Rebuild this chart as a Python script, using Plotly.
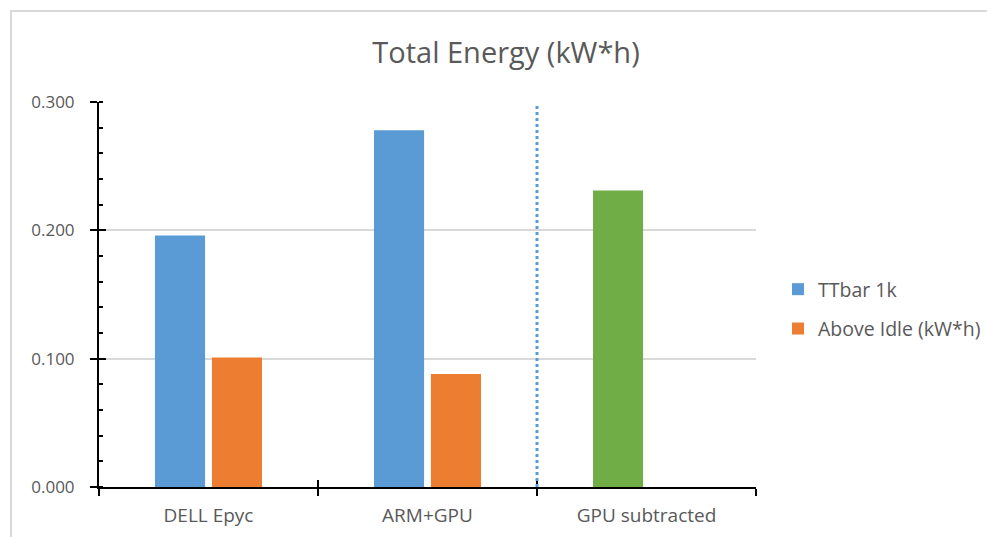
import plotly.graph_objects as go

# Chart data
categories = ["DELL Epyc", "ARM+GPU", "GPU subtracted"]
ttbar_1k = [0.196, 0.278, 0.231]
above_idle = [0.101, 0.088, None]
series_names = ["TTbar 1k", "Above Idle (kW*h)"]
title_text = "Total Energy (kW*h)"

BLUE = "#5B9BD5"
ORANGE = "#ED7D31"
GREEN = "#70AD47"
GRID = "#D9D9D9"
TEXT = "#595959"
FONT = "Open Sans"

W, H = 987, 537
L, R, T, B = 99, 231, 102, 50

fig = go.Figure()
fig.add_trace(go.Bar(
    x=categories, y=ttbar_1k, name=series_names[0],
    marker=dict(color=[BLUE, BLUE, GREEN], line=dict(width=0)),
    legendgroup="a",
))
fig.add_trace(go.Bar(
    x=categories, y=above_idle, name=series_names[1],
    marker=dict(color=ORANGE, line=dict(width=0)),
    legendgroup="b",
))

fig.update_layout(
    width=W, height=H,
    margin=dict(l=L, r=R, t=T, b=B, autoexpand=False),
    paper_bgcolor="white", plot_bgcolor="white",
    barmode="group", bargap=0.48, bargroupgap=0.12,
    font=dict(family=FONT, color=TEXT),
    title=dict(text=title_text, x=506 / W, xref="container", xanchor="center",
               y=1 - 53 / H, yref="container", yanchor="middle",
               font=dict(size=29, color=TEXT, family=FONT)),
    legend=dict(x=(778 - L) / (W - L - R), xanchor="left",
                y=(487 - 270) / (487 - T), yanchor="top",
                font=dict(size=19.5, color=TEXT, family=FONT),
                tracegroupgap=11, traceorder="grouped",
                bgcolor="rgba(0,0,0,0)", itemwidth=30),
    xaxis=dict(
        type="category", categoryorder="array", categoryarray=categories,
        range=[-0.5, 2.5], tickson="boundaries",
        showline=True, linecolor="black", linewidth=2,
        ticks="outside", ticklen=7, tickwidth=2, tickcolor="black",
        ticklabelstandoff=10,
        tickfont=dict(size=19, color=TEXT, family=FONT),
        showgrid=False, zeroline=False,
    ),
    xaxis2=dict(
        overlaying="x", anchor="y", range=[-0.5, 2.5],
        tickmode="array", tickvals=[-0.5, 0.5, 1.5, 2.5],
        ticks="inside", ticklen=7, tickwidth=2, tickcolor="black",
        showticklabels=False, showgrid=False, zeroline=False, showline=False,
    ),
    yaxis=dict(
        range=[0, 0.3], dtick=0.1, tickformat=".3f",
        showline=True, linecolor="black", linewidth=2,
        ticks="outside", ticklen=7, tickwidth=2, tickcolor="black",
        ticklabelstandoff=12,
        tickfont=dict(size=17, color=TEXT, family=FONT),
        showgrid=True, gridcolor=GRID, gridwidth=2, zeroline=False,
        minor=dict(dtick=0.02, ticks="inside", ticklen=4, tickwidth=2,
                   tickcolor="black", showgrid=False),
    ),
    yaxis2=dict(
        overlaying="y", anchor="x", range=[0, 0.3], dtick=0.1,
        ticks="inside", ticklen=7, tickwidth=2, tickcolor="black",
        showticklabels=False, showgrid=False, zeroline=False, showline=False,
    ),
)

# invisible trace to activate the secondary axes used for crossing ticks
fig.add_trace(go.Scatter(x=[None], y=[None], xaxis="x2", yaxis="y2",
                         showlegend=False, hoverinfo="skip"))

# dotted separator between measured systems and the derived value
fig.add_shape(type="line", xref="x", yref="y", x0=1.5, x1=1.5, y0=0, y1=0.297,
              line=dict(color=BLUE, width=3, dash="dot"), layer="above")

# chart frame
fig.add_shape(type="rect", xref="paper", yref="paper",
              x0=(11 - L) / (W - L - R), x1=(W + 20 - L) / (W - L - R),
              y0=(487 - (H + 20)) / (487 - T), y1=(487 - 11) / (487 - T),
              line=dict(color=GRID, width=2), fillcolor="rgba(0,0,0,0)",
              layer="below")

fig.write_html("out.html")
